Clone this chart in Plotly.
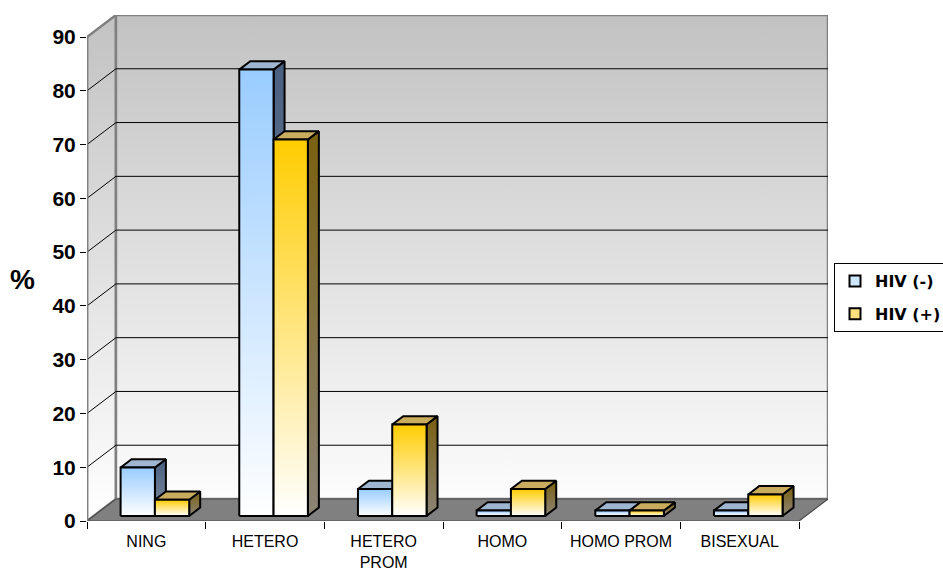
import plotly.graph_objects as go

# ---- data -------------------------------------------------------------
categories = ["NING", "HETERO", "HETERO<br>PROM", "HOMO", "HOMO PROM", "BISEXUAL"]
hiv_neg = [9, 83, 5, 1, 1, 1]
hiv_pos = [3, 70, 17, 5, 1, 4]
y_ticks = [0, 10, 20, 30, 40, 50, 60, 70, 80, 90]
series_names = ["HIV (-)", "HIV (+)"]

# ---- oblique 3-D geometry (category units / value units) --------------
Y_MAX = 90
DX = 0.244          # horizontal shift of the back plane, in categories
DY = 4.09           # vertical shift of the back plane, in value units
BAR_Z0, BAR_Z1 = 0.23, 0.61   # front / back depth of the bars
BAR_LEFT = 0.227    # left edge of the first bar inside a category
BAR_W = 0.289       # width of one bar
N = len(categories)

FONT = "Liberation Sans, Arial, sans-serif"
LEGEND_FONT = "DejaVu Sans, Verdana, sans-serif"

series_styles = [
    dict(front=[[0, "#FFFFFF"], [1, "#99CCFF"]],
         top="#9FB6D0",
         side=[[0, "#7F8CA0"], [1, "#4A6081"]],
         legend="#CFE6FF"),
    dict(front=[[0, "#FFFFFF"], [1, "#FFCC00"]],
         top="#C9AC5E",
         side=[[0, "#8C8476"], [1, "#7A6010"]],
         legend="#FFE07A"),
]


def proj(x, v, z):
    """Project a point (category x, value v, depth z) onto the 2-D plane."""
    return x + z * DX, v + z * DY


def poly(points):
    pts = [proj(*p) for p in points] + [proj(*points[0])]
    return [p[0] for p in pts], [p[1] for p in pts]


def face(points, line_color="black", line_width=2, fillcolor=None, gradient=None):
    xs, ys = poly(points)
    kw = dict(x=xs, y=ys, mode="lines", fill="toself",
              line=dict(color=line_color, width=line_width),
              hoverinfo="skip", showlegend=False)
    if gradient is not None:
        kw["fillgradient"] = gradient
    else:
        kw["fillcolor"] = fillcolor
    return go.Scatter(**kw)


fig = go.Figure()

# walls: gray-to-white vertical gradient
wall_grad = dict(type="vertical", colorscale=[[0, "#FFFFFF"], [1, "#C2C2C2"]],
                 start=0, stop=Y_MAX + DY)
fig.add_trace(face([(0, 0, 0), (0, Y_MAX, 0), (0, Y_MAX, 1), (0, 0, 1)],
                   line_color="#808080", line_width=2.5, gradient=wall_grad))
fig.add_trace(face([(0, 0, 1), (N, 0, 1), (N, Y_MAX, 1), (0, Y_MAX, 1)],
                   line_color="#808080", line_width=2.5, gradient=wall_grad))

# gridlines on the back wall and the side wall
gx, gy = [], []
for v in y_ticks[1:-1]:
    for p in [(0, v, 0), (0, v, 1), (N, v, 1)]:
        px, py = proj(*p)
        gx.append(px)
        gy.append(py)
    gx.append(None)
    gy.append(None)
fig.add_trace(go.Scatter(x=gx, y=gy, mode="lines", line=dict(color="black", width=1),
                         hoverinfo="skip", showlegend=False))

# floor
fig.add_trace(face([(0, 0, 0), (N, 0, 0), (N, 0, 1), (0, 0, 1)],
                   line_color="#4A4A4A", line_width=1.2, fillcolor="#808080"))

# bars: side, top, front for each series
for i in range(N):
    for s, vals in enumerate([hiv_neg, hiv_pos]):
        val = vals[i]
        st = series_styles[s]
        x0 = i + BAR_LEFT + s * BAR_W
        x1 = x0 + BAR_W
        z0, z1 = BAR_Z0, BAR_Z1
        fig.add_trace(face([(x1, 0, z0), (x1, 0, z1), (x1, val, z1), (x1, val, z0)],
                           gradient=dict(type="vertical", colorscale=st["side"])))
        fig.add_trace(face([(x0, val, z0), (x1, val, z0), (x1, val, z1), (x0, val, z1)],
                           fillcolor=st["top"]))
        fig.add_trace(face([(x0, 0, z0), (x1, 0, z0), (x1, val, z0), (x0, val, z0)],
                           gradient=dict(type="vertical", colorscale=st["front"])))

# front-left value axis line
ax_x, ax_y = poly([(0, 0, 0), (0, Y_MAX, 0)])
fig.add_trace(go.Scatter(x=ax_x[:2], y=ax_y[:2], mode="lines",
                         line=dict(color="#808080", width=2.5),
                         hoverinfo="skip", showlegend=False))

# legend entries
for s, name in enumerate(series_names):
    fig.add_trace(go.Scatter(
        x=[None], y=[None], mode="markers", name="<b>" + name + "</b>", xaxis="x2",
        legendgroup=name,
        marker=dict(symbol="square", size=11, color=series_styles[s]["legend"],
                    line=dict(color="black", width=2)),
    ))

x_range = [0, N + DX]
fig.update_layout(
    width=943, height=570,
    margin=dict(l=87, r=115, t=15, b=49, autoexpand=False),
    paper_bgcolor="white", plot_bgcolor="white",
    font=dict(family=FONT, color="black"),
    xaxis=dict(range=x_range, tickvals=list(range(N + 1)), ticktext=[""] * (N + 1),
               ticks="outside", ticklen=7, tickwidth=1, tickcolor="black",
               showgrid=False, zeroline=False, showline=False, fixedrange=True),
    xaxis2=dict(range=x_range, overlaying="x", side="bottom",
                tickvals=[i + 0.5 for i in range(N)], ticktext=categories,
                ticks="", tickfont=dict(size=16, family=FONT), ticklabelstandoff=9,
                showgrid=False, zeroline=False, showline=False, fixedrange=True),
    yaxis=dict(range=[0, Y_MAX + DY], tickvals=y_ticks,
               ticks="outside", ticklen=6, tickwidth=1, tickcolor="black",
               tickfont=dict(size=21, family=FONT, weight="bold"),
               showgrid=False, zeroline=False, showline=False, fixedrange=True),
    legend=dict(x=(834 - 87) / 741, y=(521 - 263) / 506, xanchor="left", yanchor="top",
                bordercolor="black", borderwidth=1, bgcolor="white",
                font=dict(size=16, family=LEGEND_FONT, weight="bold"),
                traceorder="grouped", tracegroupgap=9),
    annotations=[dict(text="%", xref="paper", yref="paper",
                      x=(22 - 87) / 741, y=(521 - 279) / 506,
                      xanchor="center", yanchor="middle", showarrow=False,
                      font=dict(size=28, family=FONT, weight="bold"))],
)

fig.write_html("out.html")
